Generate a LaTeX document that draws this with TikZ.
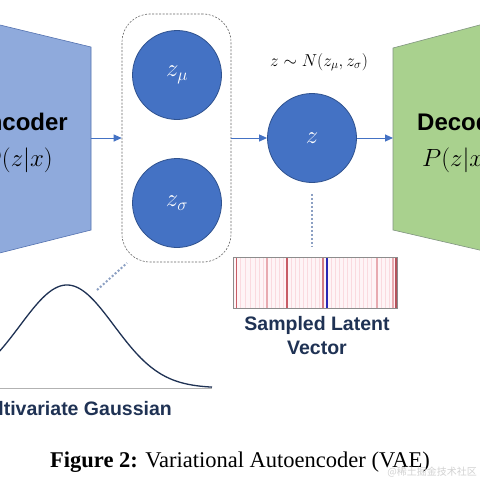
\documentclass[tikz,border=0pt]{standalone}
\usepackage{fontspec}
\setsansfont{Liberation Sans}
\setmainfont{Liberation Serif}
\newfontfamily\cjk{Noto Sans CJK SC}
\usetikzlibrary{arrows.meta}
\definecolor{encfill}{RGB}{143,170,220}
\definecolor{encedge}{RGB}{84,114,176}
\definecolor{decfill}{RGB}{169,209,142}
\definecolor{decedge}{RGB}{128,148,128}
\definecolor{cfill}{RGB}{68,114,196}
\definecolor{cedge}{RGB}{47,82,143}
\definecolor{navy}{RGB}{31,50,84}
\definecolor{dotc}{RGB}{140,160,195}
\definecolor{pinkbg}{RGB}{254,244,246}
\definecolor{pinkl}{RGB}{250,218,223}
\definecolor{pinkm}{RGB}{232,170,176}
\definecolor{redm}{RGB}{200,92,102}
\definecolor{bluev}{RGB}{40,40,180}
\tikzset{
  encoderbox/.style={fill=encfill, draw=encedge, line width=0.6pt},
  decoderbox/.style={fill=decfill, draw=decedge, line width=0.6pt},
  latent/.style={circle, fill=cfill, draw=cedge, line width=0.8pt, minimum size=89pt, inner sep=0pt, text=white, font=\fontsize{26}{30}\selectfont},
  grpbox/.style={draw=gray!80!black, dash pattern=on 2pt off 1.5pt, line width=0.6pt, rounded corners=28pt, minimum width=109pt, minimum height=248pt, inner sep=0pt},
  arr/.style={-{Triangle[length=8pt,width=7pt]}, draw=cfill, line width=1pt},
  dotline/.style={draw=dotc, line width=2pt, dash pattern=on 2pt off 2pt},
  gauss/.style={draw=navy, line width=1.3pt},
  bigbold/.style={font=\sffamily\bfseries\fontsize{24}{28}\selectfont, inner sep=0pt},
  bigmath/.style={font=\fontsize{27}{30}\selectfont, inner sep=0pt},
  vlabel/.style={font=\sffamily\bfseries\fontsize{19.5}{24}\selectfont, text=navy, inner sep=0pt},
}
\begin{document}
\begin{tikzpicture}[x=1pt,y=-1pt]
\useasboundingbox (0,0) rectangle (480,480);
\clip (0,0) rectangle (480,480);
\fill[white] (0,0) rectangle (480,480);

% encoder
\draw[encoderbox] (-60,10.5) -- (91,47) -- (91,230) -- (-60,268) -- cycle;
\node[bigbold, anchor=base east] (enctext) at (68,130) {Encoder};
\node[bigmath, anchor=base east] (encmath) at (53,166) {$Q(z|x)$};
\coordinate (encR) at (91,138);

% decoder
\draw[decoderbox] (393,48) -- (540,9) -- (540,264) -- (393,230) -- cycle;
\node[bigbold, anchor=base west] (dectext) at (417,130) {Decoder};
\node[bigmath, anchor=base west] (decmath) at (422,166) {$P(z|x)$};
\coordinate (decL) at (393,138);

% latent group
\node[grpbox] (grp) at (176.5,138) {};
\node[latent] (zmu) at (177,75) {$z_\mu$};
\node[latent] (zsig) at (177,203) {$z_\sigma$};
\node[latent] (z) at (312,138) {$z$};
\node[font=\fontsize{18.5}{22}\selectfont] (dist) at (319,62) {$z\sim N(z_\mu,z_\sigma)$};

\draw[arr] (encR) -- (grp.west);
\draw[arr] (grp.east) -- (z.west);
\draw[arr] (z.east) -- (decL);

% sampled vector
\coordinate (zdot) at (312,246);
\draw[dotline, shorten <=11pt] (z.south) -- (zdot);
\fill[pinkbg] (233,257) rectangle (397,308);
\foreach \xx in {240,245,250,255,259,263,271,275,279,283,291,295,299,303,307,311,315,319,331,335,339,343,347,351,355,359,363,367,371,381,385,389}
  \draw[pinkl, line width=1pt] (\xx,257.5) -- (\xx,307.5);
\foreach \xx in {267,377,393}
  \draw[pinkm, line width=1.2pt] (\xx,257.5) -- (\xx,307.5);
\draw[redm, line width=1.3pt] (236.5,257.5) -- (236.5,307.5);
\draw[redm, line width=1.8pt] (287,257.5) -- (287,307.5);
\draw[redm!80, line width=1.2pt] (323,257.5) -- (323,307.5);
\draw[bluev, line width=1.8pt] (327,257.5) -- (327,307.5);
\draw[redm!90!black, line width=2.2pt] (396.5,257.5) -- (396.5,307.5);
\node[draw=gray!90, line width=0.8pt, minimum width=164pt, minimum height=51pt, inner sep=0pt] (vec) at (315,282.5) {};
\node[vlabel, align=center] (vtxt) at (317,336) {Sampled Latent\\Vector};

% gaussian
\draw[gray!60, line width=0.6pt] (0,388) -- (212,388);
\draw[gauss] plot[domain=-10:212, samples=120] (\x, {388-103*exp(-0.5*((\x-67)/47)^2)});
\node[vlabel, anchor=base east] (gtxt) at (172,415) {Multivariate Gaussian};
\coordinate (g1) at (97,290);
\coordinate (g2) at (127,263);
\draw[dotline] (g1) -- (g2);

% caption
\node[font=\fontsize{22.5}{26}\selectfont, anchor=base, inner sep=0pt] (cap) at (240,467) {\textbf{Figure 2:} Variational Autoencoder (VAE)};
\node[font=\cjk\fontsize{10}{12}\selectfont, text=gray!35, anchor=east, inner sep=0pt] (wm) at (477,472) {@稀土掘金技术社区};
\end{tikzpicture}
\end{document}
